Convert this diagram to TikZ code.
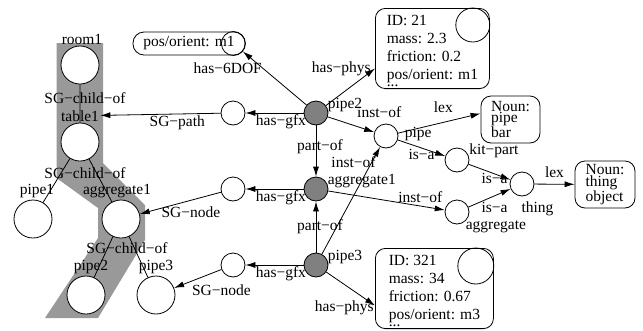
\documentclass[tikz,border=0pt]{standalone}
\usepackage{fontspec}
\setmainfont{Liberation Serif}
\usetikzlibrary{arrows.meta,positioning}
\newcommand{\labfont}{\fontsize{15.5}{18}\selectfont}
\newcommand{\lexfont}{\fontsize{15.5}{11.5}\selectfont}

\begin{document}
\begin{tikzpicture}[x=1pt,y=-1pt,line width=0.8pt,on grid,
    every node/.style={font=\labfont,inner sep=1pt},
    every label/.style={inner sep=1pt},
    obj/.style={circle,draw,fill=white,minimum size=38pt,inner sep=0pt},
    gfx/.style={circle,draw,minimum size=24pt,inner sep=0pt},
    inst/.style={gfx,fill=black!50},
    instlbl/.style={label={[anchor=base west,xshift=-2pt,yshift=5pt]0:#1}},
    physbox/.style={draw,rounded corners=10pt,align=left,anchor=north west,inner xsep=10pt,inner ysep=2pt},
    lexbox/.style={draw,rounded corners=10pt,align=left,font=\lexfont,minimum width=59pt,minimum height=47pt},
    rel/.style={-{Latex[length=10pt,width=6pt]}}]
  \useasboundingbox (0,0) rectangle (643,330);

  % scene graph path
  \fill[black!40] (56.5,43) -- (103,43) -- (103,163) -- (145,205) -- (145,240) -- (98,318)
    -- (45,318) -- (98,238) -- (98,208) -- (56.5,178) -- cycle;
  \node[obj,label={[xshift=2pt]above:room1}] (room1) at (80,65) {};
  \node[obj,label={[name=table1lbl]above:table1}] (table1) at (80,142) {};
  \node[obj,label={[xshift=4pt]above:pipe1}] (pipe1) at (33,219) {};
  \node[obj,label={[xshift=-4pt]above:aggregate1}] (agg1) at (121,219) {};
  \node[obj,label={[xshift=5pt]above:pipe2}] (sgpipe2) at (86,295) {};
  \node[obj,label={above:pipe3}] (sgpipe3) at (156,295) {};
  \draw (room1) -- (table1) (table1) -- (pipe1) (table1) -- (agg1)
        (agg1) -- (sgpipe2) (agg1) -- (sgpipe3);
  \node at (85,98) {SG−child−of};
  \node at (85,173) {SG−child−of};
  \node at (127,248) {SG−child−of};

  % instances
  \node[inst,instlbl=pipe2] (pipe2) at (316,113) {};
  \node[inst,instlbl=aggregate1,below=76pt of pipe2] (aggr1) {};
  \node[inst,instlbl=pipe3,below=76pt of aggr1] (pipe3) {};
  \node[gfx,left=83pt of pipe2] (gfxpipe2) {};
  \node[gfx,left=83pt of aggr1] (gfxaggr1) {};
  \node[gfx,left=83pt of pipe3] (gfxpipe3) {};

  % 6DOF and physics
  \node[draw,rounded corners=11pt,minimum width=112pt,minimum height=23pt] (pose) at (189,43.5) {pos/orient: m1};
  \node[gfx] (posdot) at ([xshift=-12pt]pose.east) {};
  \node[physbox,minimum width=114pt] (phys2) at (375,8)
    {\rule{0pt}{15pt}ID: 21\\mass: 2.3\\friction: 0.2\\pos/orient: m1\\[-11pt]...};
  \node[circle,draw,minimum size=34pt] (phys2dot) at ([xshift=-17pt,yshift=-17pt]phys2.north east) {};
  \node[physbox,minimum width=118pt] (phys3) at (375,248)
    {\rule{0pt}{15pt}ID: 321\\mass: 34\\friction: 0.67\\pos/orient: m3\\[-11pt]...};
  \node[circle,draw,minimum size=36pt] (phys3dot) at ([xshift=-18pt,yshift=-18pt]phys3.north east) {};

  % classes and lexicon
  \node[gfx,label={[anchor=base west,xshift=5pt,yshift=-1pt]0:pipe}] (pipecls) at (386,136) {};
  \node[gfx,label={[anchor=base west,xshift=-1.5pt,yshift=6pt]0:kit−part}] (kitpart) at (457,160) {};
  \node[gfx,label={[anchor=base,xshift=15.5pt,yshift=-16pt]below:thing}] (thing) at (522,184) {};
  \node[gfx,label={[anchor=base west,xshift=-5pt,yshift=-17pt]0:aggregate}] (aggcls) at (457,212) {};
  \node[lexbox] (lexpipe) at (510.5,119.5) {Noun:\\pipe\\bar};
  \node[lexbox,minimum width=60pt] (lexthing) at (605,184.5) {Noun:\\thing\\object};

  \path[rel]
    (pipe2) edge node[pos=.68,anchor=east] {has−6DOF} (posdot)
            edge node[pos=1,anchor=east,xshift=-3pt] {has−phys} ([yshift=-20pt]phys2.west)
            edge node[pos=.39,below] {has−gfx} (gfxpipe2)
            edge node[pos=1,above=13pt,xshift=5pt] {inst−of} (pipecls)
            edge node[pos=.41,xshift=4pt] {part−of} (aggr1)
    (aggr1) edge node[pos=.39,below] {has−gfx} (gfxaggr1)
            edge node[pos=.79,above=2pt] {inst−of} (aggcls)
    (pipe3) edge node[pos=.39,below] {has−gfx} (gfxpipe3)
            edge node[midway,xshift=4pt] {part−of} (aggr1)
            edge node[pos=.86,anchor=east,xshift=5pt] {inst−of} (pipecls)
            edge node[pos=1,anchor=east,yshift=-2pt] {has−phys} ([yshift=-17pt]phys3.west)
    (gfxpipe2) edge node[pos=.36,below] {SG−path} (table1lbl)
    (gfxaggr1) edge node[pos=.37,below=5pt] {SG−node} (agg1)
    (gfxpipe3) edge node[pos=0,below=14pt] {SG−node} (sgpipe3)
    (pipecls) edge node[midway,above=9pt,xshift=4pt] {lex} ([yshift=6pt]lexpipe.west)
              edge node[midway,below] {is−a} (kitpart)
    (kitpart) edge node[pos=.62,below=-2pt] {is−a} (thing)
    (aggcls) edge node[pos=.62,below=5pt] {is−a} (thing)
    (thing) edge node[midway,above=5pt] {lex} (lexthing);
\end{tikzpicture}
\end{document}
